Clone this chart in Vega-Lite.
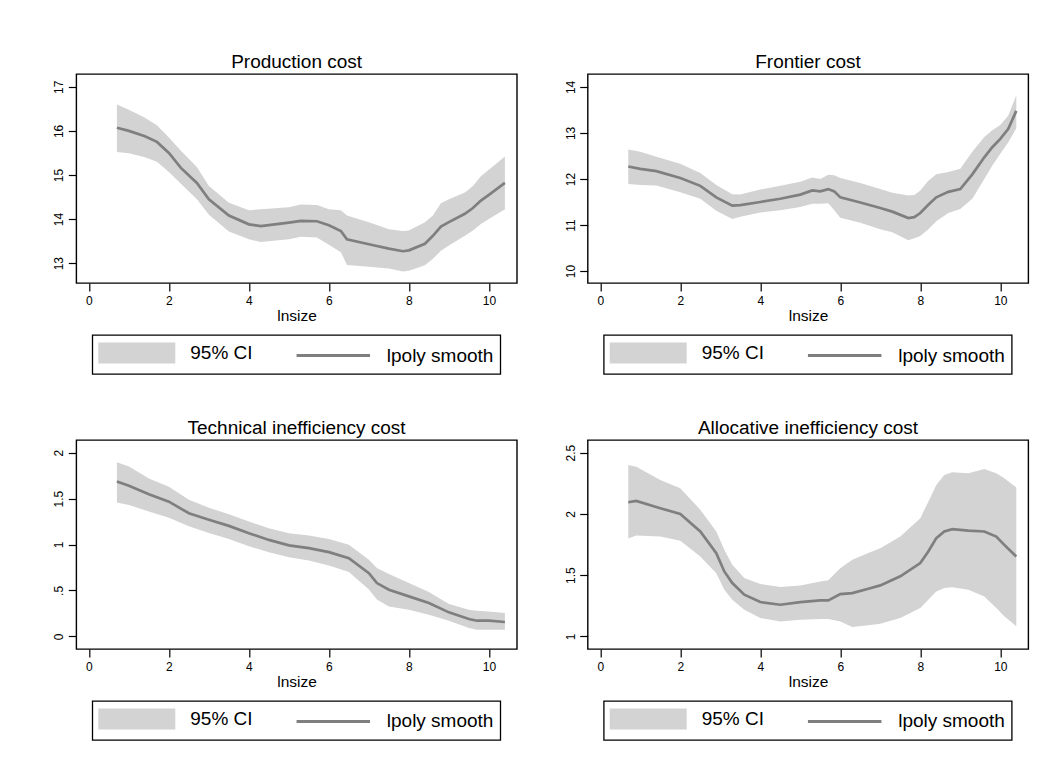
{
  "$schema": "https://vega.github.io/schema/vega-lite/v6.json",
  "background": "white",
  "padding": {"left": 51.3, "top": 52, "right": 5, "bottom": 5},
  "bounds": "flush",
  "columns": 2,
  "spacing": {"row": 157, "column": 70.4},
  "resolve": {"scale": {"color": "independent"}, "legend": {"color": "independent"}},
  "datasets": {
    "p1": [
      {"x": 0.7, "fit": 16.07, "lo": 15.52, "hi": 16.6},
      {"x": 1.0, "fit": 16.0, "lo": 15.49, "hi": 16.48},
      {"x": 1.4, "fit": 15.88, "lo": 15.4, "hi": 16.3},
      {"x": 1.7, "fit": 15.75, "lo": 15.3, "hi": 16.13},
      {"x": 2.0, "fit": 15.5, "lo": 15.07, "hi": 15.85},
      {"x": 2.3, "fit": 15.16, "lo": 14.8, "hi": 15.55},
      {"x": 2.7, "fit": 14.82, "lo": 14.45, "hi": 15.18},
      {"x": 3.0, "fit": 14.45, "lo": 14.1, "hi": 14.75},
      {"x": 3.5, "fit": 14.08, "lo": 13.72, "hi": 14.37},
      {"x": 4.0, "fit": 13.88, "lo": 13.54, "hi": 14.2},
      {"x": 4.3, "fit": 13.84, "lo": 13.48, "hi": 14.22},
      {"x": 5.0, "fit": 13.92, "lo": 13.54, "hi": 14.27},
      {"x": 5.3, "fit": 13.96, "lo": 13.6, "hi": 14.33},
      {"x": 5.7, "fit": 13.95, "lo": 13.58, "hi": 14.32},
      {"x": 6.0, "fit": 13.86, "lo": 13.42, "hi": 14.22},
      {"x": 6.3, "fit": 13.73, "lo": 13.25, "hi": 14.2},
      {"x": 6.45, "fit": 13.54, "lo": 12.96, "hi": 14.08},
      {"x": 7.0, "fit": 13.43, "lo": 12.92, "hi": 13.93},
      {"x": 7.5, "fit": 13.33, "lo": 12.88, "hi": 13.77},
      {"x": 7.85, "fit": 13.27, "lo": 12.81, "hi": 13.73},
      {"x": 8.0, "fit": 13.29, "lo": 12.83, "hi": 13.74},
      {"x": 8.4, "fit": 13.44, "lo": 12.95, "hi": 13.93},
      {"x": 8.6, "fit": 13.62, "lo": 13.1, "hi": 14.08},
      {"x": 8.8, "fit": 13.83, "lo": 13.28, "hi": 14.36},
      {"x": 9.0, "fit": 13.93, "lo": 13.4, "hi": 14.45},
      {"x": 9.4, "fit": 14.12, "lo": 13.62, "hi": 14.6},
      {"x": 9.6, "fit": 14.25, "lo": 13.74, "hi": 14.75},
      {"x": 9.8, "fit": 14.42, "lo": 13.89, "hi": 14.97},
      {"x": 10.0, "fit": 14.55, "lo": 14.0, "hi": 15.12},
      {"x": 10.4, "fit": 14.82, "lo": 14.22, "hi": 15.42}
    ],
    "p2": [
      {"x": 0.7, "fit": 12.27, "lo": 11.89, "hi": 12.64},
      {"x": 1.0, "fit": 12.22, "lo": 11.87, "hi": 12.59},
      {"x": 1.4, "fit": 12.17, "lo": 11.86, "hi": 12.48},
      {"x": 2.0, "fit": 12.02, "lo": 11.71, "hi": 12.33},
      {"x": 2.5, "fit": 11.85, "lo": 11.57, "hi": 12.13},
      {"x": 2.9, "fit": 11.6, "lo": 11.31, "hi": 11.87},
      {"x": 3.3, "fit": 11.42, "lo": 11.13, "hi": 11.67},
      {"x": 3.5, "fit": 11.43, "lo": 11.18, "hi": 11.66},
      {"x": 4.0, "fit": 11.5, "lo": 11.27, "hi": 11.77},
      {"x": 4.5, "fit": 11.57, "lo": 11.32, "hi": 11.85},
      {"x": 5.0, "fit": 11.66, "lo": 11.39, "hi": 11.94},
      {"x": 5.3, "fit": 11.75, "lo": 11.46, "hi": 12.03},
      {"x": 5.5, "fit": 11.73, "lo": 11.46, "hi": 12.0},
      {"x": 5.7, "fit": 11.78, "lo": 11.47, "hi": 12.09},
      {"x": 5.85, "fit": 11.73, "lo": 11.32, "hi": 12.08},
      {"x": 6.0, "fit": 11.6, "lo": 11.16, "hi": 12.02},
      {"x": 6.5, "fit": 11.49, "lo": 11.05, "hi": 11.91},
      {"x": 7.0, "fit": 11.37, "lo": 10.91, "hi": 11.78},
      {"x": 7.3, "fit": 11.29, "lo": 10.84, "hi": 11.7},
      {"x": 7.7, "fit": 11.15, "lo": 10.67, "hi": 11.64},
      {"x": 7.85, "fit": 11.17, "lo": 10.71, "hi": 11.65},
      {"x": 8.0, "fit": 11.26, "lo": 10.76, "hi": 11.75},
      {"x": 8.2, "fit": 11.44, "lo": 10.91, "hi": 11.96},
      {"x": 8.4, "fit": 11.6, "lo": 11.08, "hi": 12.1},
      {"x": 8.7, "fit": 11.72, "lo": 11.26, "hi": 12.15},
      {"x": 9.0, "fit": 11.78, "lo": 11.35, "hi": 12.22},
      {"x": 9.3, "fit": 12.1, "lo": 11.57, "hi": 12.59},
      {"x": 9.6, "fit": 12.47, "lo": 12.0, "hi": 12.91},
      {"x": 9.8, "fit": 12.69, "lo": 12.29, "hi": 13.06},
      {"x": 10.0, "fit": 12.87, "lo": 12.55, "hi": 13.17},
      {"x": 10.2, "fit": 13.09, "lo": 12.8, "hi": 13.38},
      {"x": 10.4, "fit": 13.48, "lo": 13.1, "hi": 13.82}
    ],
    "p3": [
      {"x": 0.7, "fit": 1.685, "lo": 1.457, "hi": 1.895},
      {"x": 1.0, "fit": 1.64, "lo": 1.43, "hi": 1.85},
      {"x": 1.5, "fit": 1.547, "lo": 1.36, "hi": 1.72},
      {"x": 2.0, "fit": 1.467, "lo": 1.29, "hi": 1.63},
      {"x": 2.5, "fit": 1.34, "lo": 1.2, "hi": 1.486},
      {"x": 3.0, "fit": 1.27, "lo": 1.125, "hi": 1.4},
      {"x": 3.5, "fit": 1.203, "lo": 1.06, "hi": 1.33},
      {"x": 4.0, "fit": 1.123, "lo": 0.98, "hi": 1.25},
      {"x": 4.5, "fit": 1.05, "lo": 0.915, "hi": 1.177},
      {"x": 5.0, "fit": 0.99, "lo": 0.862, "hi": 1.123},
      {"x": 5.5, "fit": 0.96, "lo": 0.826, "hi": 1.098},
      {"x": 6.0, "fit": 0.917, "lo": 0.772, "hi": 1.06},
      {"x": 6.5, "fit": 0.851, "lo": 0.7, "hi": 0.996},
      {"x": 7.0, "fit": 0.688, "lo": 0.51, "hi": 0.833},
      {"x": 7.2, "fit": 0.58, "lo": 0.4, "hi": 0.743},
      {"x": 7.5, "fit": 0.507, "lo": 0.326, "hi": 0.678},
      {"x": 8.0, "fit": 0.435, "lo": 0.29, "hi": 0.58},
      {"x": 8.5, "fit": 0.362, "lo": 0.236, "hi": 0.482},
      {"x": 9.0, "fit": 0.261, "lo": 0.17, "hi": 0.351},
      {"x": 9.5, "fit": 0.188, "lo": 0.09, "hi": 0.29},
      {"x": 9.7, "fit": 0.17, "lo": 0.072, "hi": 0.279},
      {"x": 10.0, "fit": 0.17, "lo": 0.072, "hi": 0.27},
      {"x": 10.4, "fit": 0.156, "lo": 0.072, "hi": 0.254}
    ],
    "p4": [
      {"x": 0.7, "fit": 2.095, "lo": 1.8, "hi": 2.4},
      {"x": 0.9, "fit": 2.106, "lo": 1.823, "hi": 2.386},
      {"x": 1.5, "fit": 2.046, "lo": 1.815, "hi": 2.277},
      {"x": 2.0, "fit": 2.0, "lo": 1.78, "hi": 2.21},
      {"x": 2.5, "fit": 1.856, "lo": 1.652, "hi": 2.033},
      {"x": 2.9, "fit": 1.679, "lo": 1.516, "hi": 1.856},
      {"x": 3.1, "fit": 1.53, "lo": 1.38, "hi": 1.707},
      {"x": 3.3, "fit": 1.435, "lo": 1.299, "hi": 1.584},
      {"x": 3.6, "fit": 1.34, "lo": 1.217, "hi": 1.476},
      {"x": 4.0, "fit": 1.28, "lo": 1.149, "hi": 1.427},
      {"x": 4.5, "fit": 1.258, "lo": 1.122, "hi": 1.402},
      {"x": 5.0, "fit": 1.28, "lo": 1.136, "hi": 1.416},
      {"x": 5.5, "fit": 1.293, "lo": 1.141, "hi": 1.448},
      {"x": 5.7, "fit": 1.293, "lo": 1.141, "hi": 1.457},
      {"x": 6.0, "fit": 1.345, "lo": 1.122, "hi": 1.557},
      {"x": 6.3, "fit": 1.353, "lo": 1.076, "hi": 1.625},
      {"x": 6.7, "fit": 1.389, "lo": 1.09, "hi": 1.68},
      {"x": 7.0, "fit": 1.416, "lo": 1.103, "hi": 1.72},
      {"x": 7.5, "fit": 1.49, "lo": 1.149, "hi": 1.815},
      {"x": 8.0, "fit": 1.598, "lo": 1.231, "hi": 1.965},
      {"x": 8.2, "fit": 1.693, "lo": 1.299, "hi": 2.1},
      {"x": 8.4, "fit": 1.802, "lo": 1.367, "hi": 2.236},
      {"x": 8.6, "fit": 1.856, "lo": 1.394, "hi": 2.318},
      {"x": 8.8, "fit": 1.875, "lo": 1.4, "hi": 2.34},
      {"x": 9.2, "fit": 1.864, "lo": 1.38, "hi": 2.332},
      {"x": 9.6, "fit": 1.856, "lo": 1.326, "hi": 2.367},
      {"x": 9.9, "fit": 1.815, "lo": 1.231, "hi": 2.332},
      {"x": 10.1, "fit": 1.747, "lo": 1.163, "hi": 2.291},
      {"x": 10.4, "fit": 1.652, "lo": 1.082, "hi": 2.215}
    ]
  },
  "concat": [
    {
      "width": 440.6, "height": 209,
      "title": {"text": "Production cost"},
      "data": {"name": "p1"},
      "layer": [
        {
          "mark": {"type": "area"},
          "encoding": {
            "x": {"field": "x", "type": "quantitative", "scale": {"domain": [-0.315, 10.7], "nice": false, "zero": false}, "axis": {"values": [0, 2, 4, 6, 8, 10], "title": "lnsize"}},
            "y": {"field": "lo", "type": "quantitative", "scale": {"domain": [12.55, 17.29], "nice": false, "zero": false}, "axis": {"values": [13, 14, 15, 16, 17], "title": null, "format": "~g"}},
            "y2": {"field": "hi"},
            "color": {"datum": "95% CI", "type": "nominal", "scale": {"domain": ["95% CI", "lpoly smooth"], "range": ["#d3d3d3", "#7f7f7f"]},
              "legend": {"encode": {"symbols": {"update": {
                "shape": [{"test": "datum.value === '95% CI'", "value": "M-3.524,-0.857H3.524V0.857H-3.524Z"}, {"value": "M-3.5,0H3.5"}],
                "opacity": {"value": 1}
              }}, "legend": {"update": {"strokeWidth": {"value": 1.3}}}}}}
          }
        },
        {
          "mark": {"type": "line", "strokeWidth": 2.7},
          "encoding": {
            "x": {"field": "x", "type": "quantitative"},
            "y": {"field": "fit", "type": "quantitative"},
            "color": {"datum": "lpoly smooth", "type": "nominal"}
          }
        }
      ]
    },
    {
      "width": 440.6, "height": 209,
      "title": {"text": "Frontier cost"},
      "data": {"name": "p2"},
      "layer": [
        {
          "mark": {"type": "area"},
          "encoding": {
            "x": {"field": "x", "type": "quantitative", "scale": {"domain": [-0.315, 10.7], "nice": false, "zero": false}, "axis": {"values": [0, 2, 4, 6, 8, 10], "title": "lnsize"}},
            "y": {"field": "lo", "type": "quantitative", "scale": {"domain": [9.74, 14.28], "nice": false, "zero": false}, "axis": {"values": [10, 11, 12, 13, 14], "title": null, "format": "~g"}},
            "y2": {"field": "hi"},
            "color": {"datum": "95% CI", "type": "nominal", "scale": {"domain": ["95% CI", "lpoly smooth"], "range": ["#d3d3d3", "#7f7f7f"]},
              "legend": {"encode": {"symbols": {"update": {
                "shape": [{"test": "datum.value === '95% CI'", "value": "M-3.524,-0.857H3.524V0.857H-3.524Z"}, {"value": "M-3.5,0H3.5"}],
                "opacity": {"value": 1}
              }}, "legend": {"update": {"strokeWidth": {"value": 1.3}}}}}}
          }
        },
        {
          "mark": {"type": "line", "strokeWidth": 2.7},
          "encoding": {
            "x": {"field": "x", "type": "quantitative"},
            "y": {"field": "fit", "type": "quantitative"},
            "color": {"datum": "lpoly smooth", "type": "nominal"}
          }
        }
      ]
    },
    {
      "width": 440.6, "height": 209,
      "title": {"text": "Technical inefficiency cost"},
      "data": {"name": "p3"},
      "layer": [
        {
          "mark": {"type": "area"},
          "encoding": {
            "x": {"field": "x", "type": "quantitative", "scale": {"domain": [-0.315, 10.7], "nice": false, "zero": false}, "axis": {"values": [0, 2, 4, 6, 8, 10], "title": "lnsize"}},
            "y": {"field": "lo", "type": "quantitative", "scale": {"domain": [-0.138, 2.138], "nice": false, "zero": false}, "axis": {"values": [0, 0.5, 1, 1.5, 2], "title": null, "format": "~g", "labelExpr": "datum.value == 0.5 ? '.5' : datum.label"}},
            "y2": {"field": "hi"},
            "color": {"datum": "95% CI", "type": "nominal", "scale": {"domain": ["95% CI", "lpoly smooth"], "range": ["#d3d3d3", "#7f7f7f"]},
              "legend": {"encode": {"symbols": {"update": {
                "shape": [{"test": "datum.value === '95% CI'", "value": "M-3.524,-0.857H3.524V0.857H-3.524Z"}, {"value": "M-3.5,0H3.5"}],
                "opacity": {"value": 1}
              }}, "legend": {"update": {"strokeWidth": {"value": 1.3}}}}}}
          }
        },
        {
          "mark": {"type": "line", "strokeWidth": 2.7},
          "encoding": {
            "x": {"field": "x", "type": "quantitative"},
            "y": {"field": "fit", "type": "quantitative"},
            "color": {"datum": "lpoly smooth", "type": "nominal"}
          }
        }
      ]
    },
    {
      "width": 440.6, "height": 209,
      "title": {"text": "Allocative inefficiency cost"},
      "data": {"name": "p4"},
      "layer": [
        {
          "mark": {"type": "area"},
          "encoding": {
            "x": {"field": "x", "type": "quantitative", "scale": {"domain": [-0.315, 10.7], "nice": false, "zero": false}, "axis": {"values": [0, 2, 4, 6, 8, 10], "title": "lnsize"}},
            "y": {"field": "lo", "type": "quantitative", "scale": {"domain": [0.8965, 2.6035], "nice": false, "zero": false}, "axis": {"values": [1, 1.5, 2, 2.5], "title": null, "format": "~g"}},
            "y2": {"field": "hi"},
            "color": {"datum": "95% CI", "type": "nominal", "scale": {"domain": ["95% CI", "lpoly smooth"], "range": ["#d3d3d3", "#7f7f7f"]},
              "legend": {"encode": {"symbols": {"update": {
                "shape": [{"test": "datum.value === '95% CI'", "value": "M-3.524,-0.857H3.524V0.857H-3.524Z"}, {"value": "M-3.5,0H3.5"}],
                "opacity": {"value": 1}
              }}, "legend": {"update": {"strokeWidth": {"value": 1.3}}}}}}
          }
        },
        {
          "mark": {"type": "line", "strokeWidth": 2.7},
          "encoding": {
            "x": {"field": "x", "type": "quantitative"},
            "y": {"field": "fit", "type": "quantitative"},
            "color": {"datum": "lpoly smooth", "type": "nominal"}
          }
        }
      ]
    }
  ],
  "config": {
    "font": "Liberation Sans",
    "view": {"stroke": "black", "strokeWidth": 1.4},
    "area": {"opacity": 1},
    "axis": {
      "domain": false, "grid": false, "ticks": true,
      "tickColor": "black", "tickWidth": 1.2, "tickSize": 8,
      "labelFont": "Liberation Sans", "labelFontSize": 12, "labelColor": "black",
      "titleFont": "Liberation Sans", "titleFontSize": 15.5, "titleFontWeight": "normal", "titleColor": "black"
    },
    "axisX": {"labelPadding": 4.5, "titlePadding": 2, "labelFlush": false},
    "axisY": {"labelAngle": -90, "labelPadding": 2.5},
    "title": {"font": "Liberation Sans", "fontSize": 19, "fontWeight": "normal", "color": "black", "anchor": "middle", "frame": "group", "baseline": "alphabetic", "offset": 2},
    "legend": {
      "orient": "bottom", "direction": "horizontal", "title": null, "offset": 11,
      "padding": 6, "strokeColor": "black",
      "labelFont": "Liberation Sans", "labelFontSize": 19, "labelColor": "black", "labelLimit": 0,
      "symbolSize": 441, "symbolStrokeWidth": 3, "symbolOffset": 26.5, "labelOffset": 41.5, "columnPadding": 36.5,
      "layout": {"bottom": {"anchor": "middle"}}
    }
  }
}
